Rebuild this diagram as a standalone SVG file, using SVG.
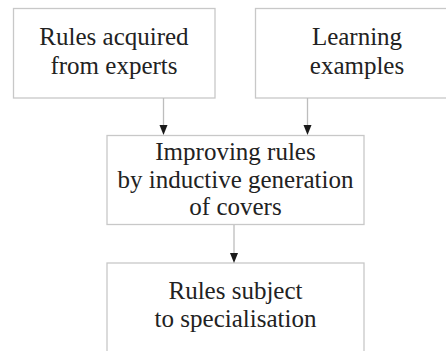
<svg xmlns="http://www.w3.org/2000/svg" width="446" height="351" viewBox="0 0 446 351">
<defs>
<marker id="ah" viewBox="0 0 8 10" refX="4" refY="10" markerWidth="8" markerHeight="10" markerUnits="userSpaceOnUse" orient="auto-start-reverse">
<path d="M0,0 L8,0 L4,10 Z" fill="#1a1a1a" transform="rotate(0)"/>
</marker>
</defs>
<style>
.box{fill:#fff;stroke:#c8c8c8;stroke-width:1.3}
.t{font-family:"Liberation Serif","Times New Roman",serif;font-size:25px;fill:#222;text-anchor:middle}
.c{stroke:#bdbdbd;stroke-width:1.3;fill:none}
.h{fill:#1a1a1a}
</style>
<rect width="446" height="351" fill="#fff"/>
<g id="n1">
<rect class="box" x="13.5" y="8.5" width="201.5" height="89.5"/>
<text class="t" x="114" y="45">Rules acquired</text>
<text class="t" x="114" y="74">from experts</text>
</g>
<g id="n2">
<rect class="box" x="255.5" y="8.5" width="202" height="89.5"/>
<text class="t" x="357" y="45">Learning</text>
<text class="t" x="357" y="74">examples</text>
</g>
<g id="n3">
<rect class="box" x="107" y="135.5" width="257" height="89"/>
<text class="t" x="235.5" y="160">Improving rules</text>
<text class="t" x="235.5" y="188">by inductive generation</text>
<text class="t" x="235.5" y="215">of covers</text>
</g>
<g id="n4">
<rect class="box" x="107" y="263" width="257" height="100"/>
<text class="t" x="235.5" y="299">Rules subject</text>
<text class="t" x="235.5" y="327">to specialisation</text>
</g>
<g id="connectors">
<line class="c" x1="163.5" y1="98" x2="163.5" y2="126"/>
<polygon class="h" points="159.5,125 167.5,125 163.5,135"/>
<line class="c" x1="307.5" y1="98" x2="307.5" y2="126"/>
<polygon class="h" points="303.5,125 311.5,125 307.5,135"/>
<line class="c" x1="234" y1="225" x2="234" y2="254"/>
<polygon class="h" points="230,253 238,253 234,263"/>
</g>
</svg>
